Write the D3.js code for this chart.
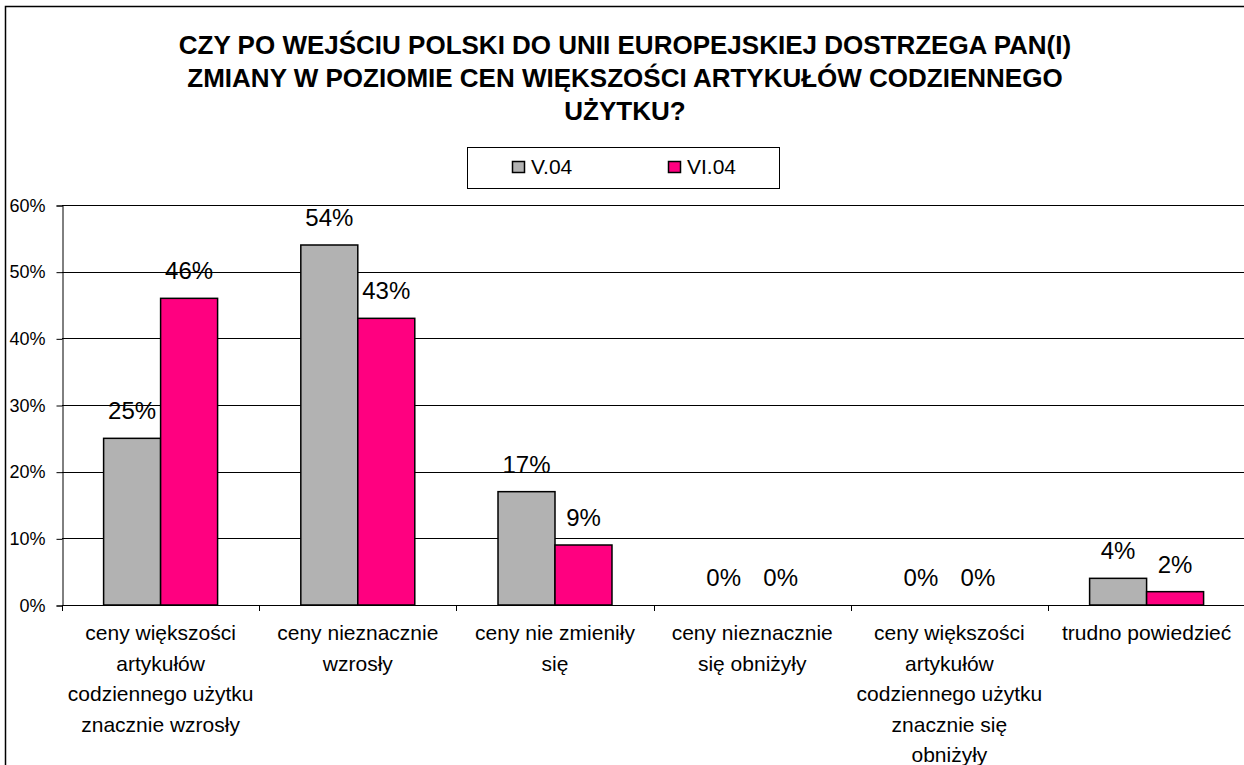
<!DOCTYPE html>
<html>
<head>
<meta charset="utf-8">
<script src="https://cdn.jsdelivr.net/npm/d3@7"></script>
<style>
  html, body { margin: 0; padding: 0; background: #fff; }
  svg { display: block; }
  text { font-family: "Liberation Sans", Arial, sans-serif; fill: #000; }
</style>
</head>
<body>
<svg id="chart" width="1244" height="765"></svg>
<script>
const titleLines = [
  "CZY PO WEJŚCIU POLSKI DO UNII EUROPEJSKIEJ DOSTRZEGA PAN(I)",
  "ZMIANY W POZIOMIE CEN WIĘKSZOŚCI ARTYKUŁÓW CODZIENNEGO",
  "UŻYTKU?"
];
const categories = [
  ["ceny większości", "artykułów", "codziennego użytku", "znacznie wzrosły"],
  ["ceny nieznacznie", "wzrosły"],
  ["ceny nie zmieniły", "się"],
  ["ceny nieznacznie", "się obniżyły"],
  ["ceny większości", "artykułów", "codziennego użytku", "znacznie się", "obniżyły"],
  ["trudno powiedzieć"]
];
const seriesNames = ["V.04", "VI.04"];
const seriesColors = ["#b2b2b2", "#ff0080"];
const valuesV04  = [25, 54, 17, 0, 0, 4];
const valuesVI04 = [46, 43, 9, 0, 0, 2];
const yTicks = [0, 10, 20, 30, 40, 50, 60];

const series = [valuesV04, valuesVI04];
const svg = d3.select("#chart");

// outer frame
svg.append("rect").attr("x", 5.5).attr("y", 6.5).attr("width", 1300).attr("height", 800)
  .attr("fill", "none").attr("stroke", "#000").attr("stroke-width", 1.5);

const plot = { left: 62, top: 205, bottom: 605, band: 197.2 };
plot.right = plot.left + plot.band * categories.length;

const x0 = d3.scaleBand().domain(d3.range(categories.length))
  .range([plot.left, plot.right]).paddingInner(0).paddingOuter(0);
const groupW = x0.bandwidth() * 0.578;
const x1 = d3.scaleBand().domain(d3.range(series.length))
  .range([(x0.bandwidth() - groupW) / 2, (x0.bandwidth() + groupW) / 2]);
const y = d3.scaleLinear().domain([0, 60]).range([plot.bottom, plot.top]);

// gridlines
svg.append("g").selectAll("line").data(yTicks.filter(t => t > 0)).join("line")
  .attr("x1", plot.left).attr("x2", plot.right)
  .attr("y1", d => Math.round(y(d)) + 0.5).attr("y2", d => Math.round(y(d)) + 0.5)
  .attr("stroke", "#000").attr("stroke-width", 1);

// y axis
const yAxis = d3.axisLeft(y).tickValues(yTicks).tickFormat(d => d + "%").tickSize(6).tickPadding(11);
const gy = svg.append("g").attr("transform", `translate(${plot.left + 0.5},0.5)`).call(yAxis);
gy.select(".domain").attr("stroke", "#000");
gy.selectAll(".tick line").attr("stroke", "#000");
gy.selectAll("text").attr("font-size", 18).attr("font-family", "Liberation Sans, Arial, sans-serif").attr("fill", "#000");

// bars
const groups = svg.append("g").selectAll("g").data(categories.map((c, i) => i)).join("g")
  .attr("transform", i => `translate(${x0(i)},0)`);
groups.selectAll("rect").data(i => series.map((s, k) => ({ k, v: s[i] }))).join("rect")
  .attr("x", d => x1(d.k)).attr("width", x1.bandwidth())
  .attr("y", d => y(d.v)).attr("height", d => y(0) - y(d.v))
  .attr("fill", d => seriesColors[d.k]).attr("stroke", "#000").attr("stroke-width", 1.5)
  .attr("display", d => d.v > 0 ? null : "none");
groups.selectAll("text").data(i => series.map((s, k) => ({ k, v: s[i] }))).join("text")
  .attr("x", d => x1(d.k) + x1.bandwidth() / 2).attr("y", d => y(d.v) - 19)
  .attr("text-anchor", "middle").attr("font-size", 24).text(d => d.v + "%");

// x axis line + ticks
svg.append("line").attr("x1", plot.left).attr("x2", plot.right)
  .attr("y1", plot.bottom + 0.5).attr("y2", plot.bottom + 0.5).attr("stroke", "#000");
svg.append("g").selectAll("line").data(d3.range(categories.length + 1)).join("line")
  .attr("x1", i => Math.round(plot.left + i * x0.step()) + 0.5)
  .attr("x2", i => Math.round(plot.left + i * x0.step()) + 0.5)
  .attr("y1", plot.bottom).attr("y2", plot.bottom + 6).attr("stroke", "#000");

// x labels
const xl = svg.append("g").selectAll("text").data(categories).join("text")
  .attr("text-anchor", "middle").attr("font-size", 21)
  .attr("transform", (d, i) => `translate(${x0(i) + x0.bandwidth() / 2},640)`);
xl.selectAll("tspan").data(d => d).join("tspan")
  .attr("x", 0).attr("dy", (d, j) => j === 0 ? 0 : 30.5).text(d => d);

// title
svg.append("g").selectAll("text").data(titleLines).join("text")
  .attr("x", 625).attr("y", (d, i) => 54 + i * 33)
  .attr("text-anchor", "middle").attr("font-size", 26).attr("font-weight", "bold").text(d => d);

// legend
const lg = svg.append("g");
lg.append("rect").attr("x", 467.5).attr("y", 147.5).attr("width", 312).attr("height", 41)
  .attr("fill", "#fff").attr("stroke", "#000").attr("stroke-width", 1);
const legX = [512, 668];
seriesNames.forEach((name, k) => {
  lg.append("rect").attr("x", legX[k] + 0.5).attr("y", 161.5).attr("width", 12).attr("height", 11)
    .attr("fill", seriesColors[k]).attr("stroke", "#000").attr("stroke-width", 1.5);
  lg.append("text").attr("x", legX[k] + 19).attr("y", 174).attr("font-size", 21).text(name);
});
</script>
</body>
</html>
